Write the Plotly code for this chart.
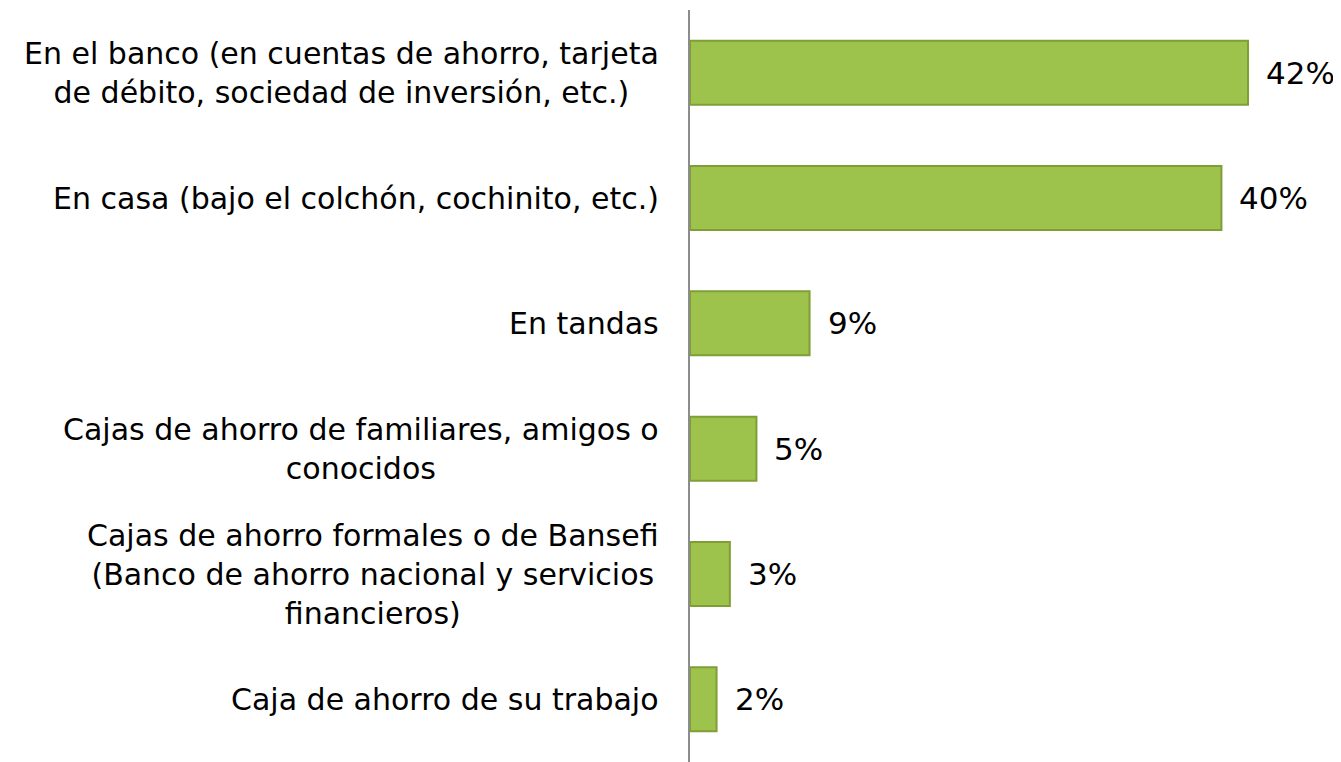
import plotly.graph_objects as go

categories = [
    "En el banco (en cuentas de ahorro, tarjeta<br>de débito, sociedad de inversión, etc.)",
    "En casa (bajo el colchón, cochinito, etc.)",
    "En tandas",
    "Cajas de ahorro de familiares, amigos o<br>conocidos",
    "Cajas de ahorro formales o de Bansefi<br>(Banco de ahorro nacional y servicios<br>financieros)",
    "Caja de ahorro de su trabajo",
]
values = [42, 40, 9, 5, 3, 2]
value_labels = ["42%", "40%", "9%", "5%", "3%", "2%"]

FONT = "DejaVu Sans"

fig = go.Figure()
fig.add_trace(go.Bar(
    x=values,
    y=list(range(len(categories))),
    orientation="h",
    marker=dict(color="#9dc34c", line=dict(color="#7f9e36", width=2)),
    width=0.51,
    hoverinfo="skip",
))

for i, (v, lab) in enumerate(zip(values, value_labels)):
    fig.add_annotation(x=v, y=i, xref="x", yref="y", text=lab, showarrow=False,
                       xanchor="left", xshift=16, font=dict(family=FONT, size=31, color="black"))

for i, cat in enumerate(categories):
    fig.add_annotation(x=0, y=i, xref="paper", yref="y", text=cat, showarrow=False,
                       xanchor="right", align="center", xshift=-29,
                       font=dict(family=FONT, size=30, color="black"))

# page body has an 8px margin, so the figure is sized/placed to compensate
fig.update_layout(
    width=1333, height=754,
    margin=dict(l=682, r=0, t=2, b=0),
    paper_bgcolor="white", plot_bgcolor="white",
    showlegend=False,
    xaxis=dict(range=[0, 49.0], visible=False, fixedrange=True),
    yaxis=dict(range=[5.5, -0.5], showticklabels=False, showgrid=False, zeroline=False,
               showline=True, linecolor="#8c8c8c", linewidth=2, ticks=""),
)

fig.write_html("out.html")
